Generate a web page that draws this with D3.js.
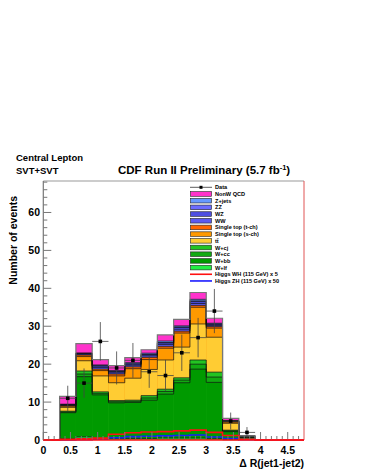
<!DOCTYPE html>
<html><head><meta charset="utf-8">
<script src="https://cdn.jsdelivr.net/npm/d3@7"></script>
<style>body{margin:0;background:#fff}svg{display:block;font-family:"Liberation Sans",Arial,sans-serif}</style>
</head><body>
<svg id="c" width="365" height="473"></svg>
<script>
const binEdges = [0,0.3,0.6,0.9,1.2,1.5,1.8,2.1,2.4,2.7,3.0,3.3,3.6,3.9,4.2,4.5,4.8];
// cumulative stack tops per bin (bins 0..15)
const cumWlf  = [0,0.3,0.8,0.3,0.3,0.4,0.4,0.5,0.5,0.5,0.3,0.05,0,0,0,0];
const cumWbb  = [0,7.2,16.7,11.9,9.8,9.9,10.5,12.1,15.1,18.7,15.2,2.2,0.7,0,0,0];
const cumWcc  = [0,7.4,17.4,12.3,10.1,10.2,11.1,12.8,15.8,20.0,16.6,2.4,0.75,0,0,0];
const cumWcj  = [0,7.6,18.2,12.7,10.4,10.5,11.7,13.4,16.4,21.1,17.9,2.6,0.8,0,0,0];
const cumTT   = [0,8.6,20.9,16.9,15.1,16.3,18.6,21.1,24.5,30.6,27.1,4.4,0.9,0,0,0];
const cumStS  = [0,8.9,22.0,18.3,16.9,18.8,21.2,24.2,28.2,35.0,29.5,4.7,0.95,0,0,0];
const cumStT  = [0,9.1,22.4,18.7,17.4,19.3,21.8,24.7,28.7,35.5,29.9,4.9,0.98,0,0,0];
const cumWW   = [0,9.2,22.6,19.1,17.7,19.7,22.2,25.2,29.2,36.0,30.2,5.0,1.0,0,0,0];
const cumWZ   = [0,9.3,22.8,19.5,18.0,20.0,22.5,25.6,29.7,36.5,30.5,5.05,1.02,0,0,0];
const cumZZ   = [0,9.35,22.85,19.6,18.1,20.1,22.6,25.7,29.8,36.7,30.6,5.1,1.03,0,0,0];
const cumZjet = [0,9.45,22.95,19.8,18.3,20.4,22.9,26.1,30.1,37.1,30.8,5.15,1.05,0,0,0];
const cumQCD  = [0,11.5,25.4,21.2,19.6,21.7,23.8,27.7,31.8,38.9,32.1,5.7,1.1,0,0,0];
const dataCounts = [0,11,15,26,19,21,18,17,23,27,34,5,2,0,0,0];
const higgsWH5  = [0,0.2,0.3,0.5,1.5,1.9,2.1,2.2,2.4,2.6,2.0,1.2,0.2,0,0,0];
const higgsZH50 = [0,0,0.1,0.2,0.6,0.9,1.0,1.1,1.2,1.3,0.8,0.4,0.1,0,0,0];
const xTicks = [0,0.5,1,1.5,2,2.5,3,3.5,4,4.5];
const xTickLabels = ["0","0.5","1","1.5","2","2.5","3","3.5","4","4.5"];
const yTicks = [0,10,20,30,40,50,60];

const layers = [
  {name:"W+lf", v:cumWlf, c:"#22ee44"},
  {name:"W+bb", v:cumWbb, c:"#009a00"},
  {name:"W+cc", v:cumWcc, c:"#11aa11"},
  {name:"W+cj", v:cumWcj, c:"#22c422"},
  {name:"tt", v:cumTT, c:"#ffcc33"},
  {name:"sch", v:cumStS, c:"#ff9900"},
  {name:"tch", v:cumStT, c:"#ff6600"},
  {name:"WW", v:cumWW, c:"#5a5af0"},
  {name:"WZ", v:cumWZ, c:"#4f4fe0"},
  {name:"ZZ", v:cumZZ, c:"#6b6bff"},
  {name:"Z+jets", v:cumZjet, c:"#6699ff"},
  {name:"QCD", v:cumQCD, c:"#ff33cc"}
];

const svg = d3.select("#c");
const x = d3.scaleLinear().domain([0,4.8]).range([43.3,304]);
const y = d3.scaleLinear().domain([0,68.3]).range([440,181]);

function stepPts(vals){
  const pts=[];
  vals.forEach((v,i)=>{pts.push([binEdges[i],v]);pts.push([binEdges[i+1],v]);});
  return pts;
}
const area = d3.area().x(d=>x(d[0])).y0(y(0)).y1(d=>y(d[1]));
const line = d3.line().x(d=>x(d[0])).y(d=>y(d[1]));

// draw stack from top to bottom (biggest first)
const g = svg.append("g");
layers.slice().reverse().forEach(L=>{
  const nz = [];
  L.v.forEach((v,i)=>{ if(v>0) nz.push(i); });
  nz.forEach(i=>{
    g.append("rect").attr("x",x(binEdges[i])).attr("width",x(binEdges[i+1])-x(binEdges[i]))
      .attr("y",y(L.v[i])).attr("height",y(0)-y(L.v[i])).attr("fill",L.c);
  });
});
// outlines of each layer top
layers.forEach(L=>{
  const first = L.v.findIndex(v=>v>0);
  let last = -1; L.v.forEach((v,i)=>{if(v>0) last=i;});
  if(first<0) return;
  const pts=[[binEdges[first],0]];
  for(let i=first;i<=last;i++){pts.push([binEdges[i],L.v[i]]);pts.push([binEdges[i+1],L.v[i]]);}
  pts.push([binEdges[last+1],0]);
  g.append("path").attr("d",line(pts)).attr("fill","none")
   .attr("stroke", L.name==="QCD" ? "#777" : "#111").attr("stroke-width",L.name==="QCD"?1.2:0.7);
});

// Higgs lines
g.append("path").attr("d",line(stepPts(higgsZH50))).attr("fill","none").attr("stroke","#1a1aff").attr("stroke-width",1.6);
g.append("path").attr("d",line(stepPts(higgsWH5))).attr("fill","none").attr("stroke","#ff1010").attr("stroke-width",1.6);

// data points
const dg = svg.append("g");
dataCounts.forEach((n,i)=>{
  if(n<=0) return;
  const cx = x((binEdges[i]+binEdges[i+1])/2);
  const e = Math.sqrt(n);
  dg.append("line").attr("x1",cx).attr("x2",cx).attr("y1",y(n-e)).attr("y2",y(n+e)).attr("stroke","#444").attr("stroke-width",0.8);
  dg.append("line").attr("x1",x(binEdges[i])).attr("x2",x(binEdges[i+1])).attr("y1",y(n)).attr("y2",y(n)).attr("stroke","#444").attr("stroke-width",0.8);
  dg.append("rect").attr("x",cx-1.8).attr("y",y(n)-1.8).attr("width",3.6).attr("height",3.6).attr("fill","#000");
});

// frame
svg.append("line").attr("x1",x(0)).attr("x2",x(4.8)).attr("y1",181).attr("y2",181).attr("stroke","#999").attr("stroke-width",1);
svg.append("line").attr("x1",x(4.8)).attr("x2",x(4.8)).attr("y1",181).attr("y2",440).attr("stroke","#e05555").attr("stroke-width",1);
svg.append("line").attr("x1",x(0)).attr("x2",x(0)).attr("y1",181).attr("y2",440).attr("stroke","#777").attr("stroke-width",1.2);

// y axis ticks (inward)
const yMinor = d3.range(0,68.3,2);
yMinor.forEach(v=>{
  const major = v%10===0;
  svg.append("line").attr("x1",x(0)).attr("x2",x(0)+(major?8:4)).attr("y1",y(v)).attr("y2",y(v)).attr("stroke","#777").attr("stroke-width",1);
});
yTicks.forEach(v=>{
  svg.append("text").attr("x",40).attr("y",y(v)+3.5).attr("text-anchor","end")
    .attr("font-size",10.5).attr("font-weight","bold").text(v);
});
// x axis ticks (inward)
const xMinor = d3.range(0,48).map(i=>i/10);
xMinor.forEach(v=>{
  const major = (Math.round(v*10)%5===0);
  svg.append("line").attr("x1",x(v)).attr("x2",x(v)).attr("y1",440).attr("y2",440-(major?8:4)).attr("stroke","#777").attr("stroke-width",1);
});
// bottom red (WH zero line) across axis
svg.append("line").attr("x1",x(0)).attr("x2",x(4.8)).attr("y1",440).attr("y2",440).attr("stroke","#ff1010").attr("stroke-width",1.6);
xTicks.forEach((v,i)=>{
  svg.append("text").attr("x",x(v)).attr("y",454).attr("text-anchor","middle")
    .attr("font-size",10.5).attr("font-weight","bold").text(xTickLabels[i]);
});

// axis titles
svg.append("text").attr("x",304).attr("y",467).attr("text-anchor","end").attr("font-size",10.5).attr("font-weight","bold").text("\u0394 R(jet1-jet2)");
svg.append("text").attr("transform","translate(17,196) rotate(-90)").attr("text-anchor","end").attr("font-size",10.5).attr("font-weight","bold").text("Number of events");

// titles
svg.append("text").attr("x",16).attr("y",161).attr("font-size",9.5).attr("font-weight","bold").text("Central Lepton");
svg.append("text").attr("x",16).attr("y",174).attr("font-size",9.5).attr("font-weight","bold").text("SVT+SVT");
const t = svg.append("text").attr("x",118).attr("y",174).attr("font-size",11.5).attr("font-weight","bold");
t.append("tspan").text("CDF Run II Preliminary (5.7 fb");
t.append("tspan").attr("dy",-4.5).attr("font-size",7.5).text("-1");
t.append("tspan").attr("dy",4.5).text(")");

// legend
const legendNames = ["Data","NonW QCD","Z+jets","ZZ","WZ","WW","Single top (t-ch)","Single top (s-ch)","t\u0074\u0304","W+cj","W+cc","W+bb","W+lf","Higgs WH (115 GeV) x 5","Higgs ZH (115 GeV) x 50"];
const legendColors = [null,"#ff33cc","#6699ff","#6b6bff","#4f4fe0","#5a5af0","#ff6600","#ff9900","#ffcc33","#22c422","#11aa11","#009a00","#22ee44","#ff1010","#1a1aff"];
const lg = svg.append("g");
legendNames.forEach((nm,i)=>{
  const yy = 187.3 + i*6.69;
  if(i===0){
    lg.append("line").attr("x1",190).attr("x2",212).attr("y1",yy).attr("y2",yy).attr("stroke","#333").attr("stroke-width",0.8);
    lg.append("rect").attr("x",199.5).attr("y",yy-1.5).attr("width",3).attr("height",3).attr("fill","#000");
  } else if(i>=13){
    lg.append("line").attr("x1",190).attr("x2",212).attr("y1",yy).attr("y2",yy).attr("stroke",legendColors[i]).attr("stroke-width",1.6);
  } else {
    lg.append("rect").attr("x",190.5).attr("y",yy-2.3).attr("width",21).attr("height",4.6).attr("fill",legendColors[i]).attr("stroke","#222").attr("stroke-width",0.6);
  }
  lg.append("text").attr("x",215).attr("y",yy+2).attr("font-size",5.6).attr("font-weight","bold").text(nm);
});
</script>
</body></html>
